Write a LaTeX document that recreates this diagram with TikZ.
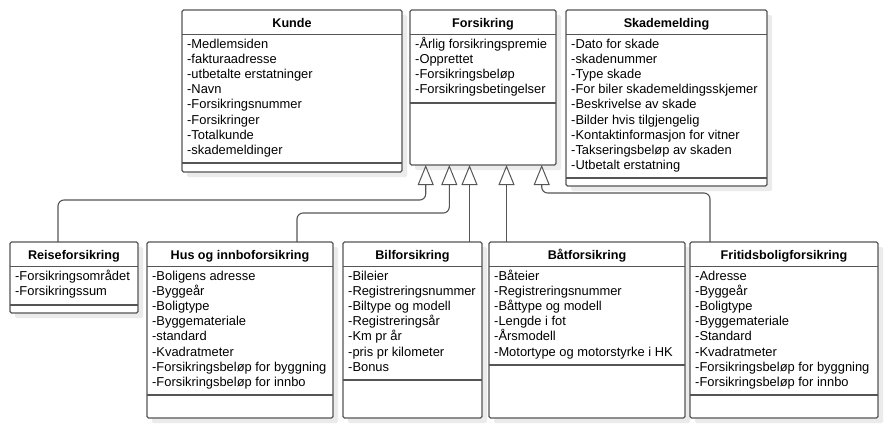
\documentclass[tikz,border=0pt]{standalone}
\usepackage{fontspec}
\setmainfont{Liberation Sans}
\usetikzlibrary{calc, arrows.meta, shadows}
\definecolor{umlgray}{HTML}{555555}
\tikzset{
    classbox/.style={draw=umlgray, line width=1.1pt, fill=white,
        rounded corners=1.5pt, outer sep=0pt, inner sep=0pt,
        drop shadow={shadow xshift=5pt, shadow yshift=-5pt, fill=black!8,
            opacity=1}},
    classline/.style={draw=umlgray, line width=1.1pt},
    classtitle/.style={font=\bfseries\fontsize{12.6}{15}\selectfont,
        inner sep=0pt, anchor=base},
    attrtext/.style={font=\fontsize{12.9}{15}\selectfont, inner sep=0pt,
        anchor=base west},
    inherits/.style={draw=umlgray, line width=1.1pt, rounded corners=6pt,
        -{Triangle[length=20pt, width=16pt, fill=white, line width=1pt]}},
}
% name, top left, width, height, separator, title, attributes
\newcommand{\umlclass}[7]{%
    \node[classbox, anchor=north west, minimum width=#3pt,
        minimum height=#4pt] (#1) at (#2) {};
    \node[classtitle] (#1-title) at ($(#1.north)+(0,17)$) {#6};
    \draw[classline] ($(#1.north west)+(0,24.5)$)
        -- ($(#1.north east)+(0,24.5)$);
    \draw[classline] ($(#1.north west)+(0,#5)$) -- ($(#1.north east)+(0,#5)$);
    \foreach \attr [count=\i] in {#7}
        \node[attrtext] (#1-\i) at ($(#1.north west)+(5,{38.5+15.1*(\i-1)})$)
            {\attr};
}

\begin{document}
\begin{tikzpicture}[x=1pt, y=-1pt]
    \useasboundingbox (0,0) rectangle (888,429);
    % top row
    \umlclass{kunde}{182,10}{220}{162}{153}{Kunde}{-Medlemsiden,
        -fakturaadresse, -utbetalte erstatninger, -Navn, -Forsikringsnummer,
        -Forsikringer, -Totalkunde, -skademeldinger}
    \umlclass{forsikring}{410,10}{146}{155}{93}{Forsikring}{-Årlig
        forsikringspremie, -Opprettet, -Forsikringsbeløp,
        -Forsikringsbetingelser}
    \umlclass{skademelding}{566,10}{201}{176}{168}{Skademelding}{-Dato for
        skade, -skadenummer, -Type skade, -For biler skademeldingsskjemer,
        -Beskrivelse av skade, -Bilder hvis tilgjengelig,
        -Kontaktinformasjon for vitner, -Takseringsbeløp av skaden,
        -Utbetalt erstatning}
    % bottom row
    \umlclass{reise}{10,242}{128}{71}{63}{Reiseforsikring}{-Forsikringsområdet,
        -Forsikringssum}
    \umlclass{hus}{147,242}{186}{176}{153}{Hus og innboforsikring}{-Boligens
        adresse, -Byggeår, -Boligtype, -Byggemateriale, -standard,
        -Kvadratmeter, -Forsikringsbeløp for byggning,
        -Forsikringsbeløp for innbo}
    \umlclass{bil}{343,242}{139}{176}{138}{Bilforsikring}{-Bileier,
        -Registreringsnummer, -Biltype og modell, -Registreringsår,
        -Km pr år, -pris pr kilometer, -Bonus}
    \umlclass{baat}{489,242}{196}{176}{123}{Båtforsikring}{-Båteier,
        -Registreringsnummer, -Båttype og modell, -Lengde i fot, -Årsmodell,
        -Motortype og motorstyrke i HK}
    \umlclass{fritid}{690,242}{188}{176}{153}{Fritidsboligforsikring}{-Adresse,
        -Byggeår, -Boligtype, -Byggemateriale, -Standard, -Kvadratmeter,
        -Forsikringsbeløp for byggning, -Forsikringsbeløp for innbo}
    % generalisation
    \draw[inherits] ($(reise.north)+(-16,0)$) -- ++(0,-42)
        -| ($(forsikring.south)+(-57.3,0)$);
    \draw[inherits] ($(hus.north)+(57,0)$) -- ++(0,-29)
        -| ($(forsikring.south)+(-33.7,0)$);
    \draw[inherits] ($(bil.north)+(57,0)$) -- ($(forsikring.south)+(-13.5,0)$);
    \draw[inherits] ($(baat.north)+(-80.5,0)$) -- ($(forsikring.south)+(23.5,0)$);
    \draw[inherits] ($(fritid.north)+(-74,0)$) -- ++(0,-49)
        -| ($(forsikring.south)+(58.7,0)$);
\end{tikzpicture}
\end{document}
